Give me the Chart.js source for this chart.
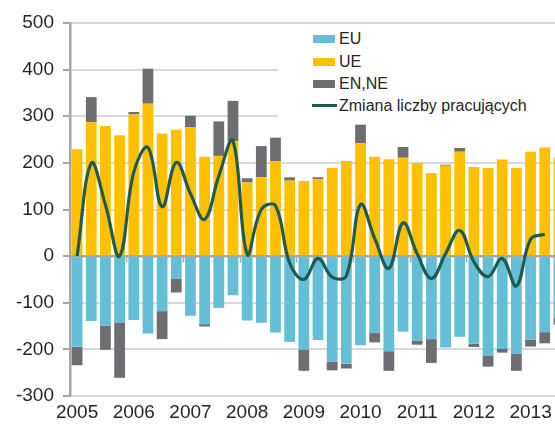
<!DOCTYPE html>
<html lang="pl">
<head>
  <meta charset="UTF-8">
  <title>Zmiana liczby pracujących</title>
  <script src="https://cdn.jsdelivr.net/npm/chart.js"></script>
  <style>
    html, body {
      margin: 0;
      padding: 0;
      background: white;
      overflow: hidden;
    }

    #wrap {
      position: relative;
      width: 555px;
      height: 426px;
      overflow: hidden;
      font-family: "Liberation Sans", Arial, sans-serif;
    }

    #chart {
      position: absolute;
      left: 0;
      top: 0;
    }

    #legend {
      position: absolute;
      left: 278px;
      top: 27px;
      width: 277px;
      height: 94px;
      background: white;
      color: #262626;
      font-size: 16px;
    }

    .item {
      position: absolute;
      left: 0;
      height: 20px;
      line-height: 20px;
      white-space: nowrap;
    }

    .sw {
      position: absolute;
      left: 35px;
      top: 6px;
      width: 22px;
      height: 8px;
    }

    .sw.line {
      left: 34px;
      top: 8px;
      width: 25px;
      height: 3px;
    }

    .txt {
      position: absolute;
      left: 61px;
      top: 0;
    }
  </style>
</head>
<body>
  <div id="wrap">
    <canvas id="chart" width="570" height="426"></canvas>
    <div id="legend">
      <div class="item" style="top: 2px"><span class="sw" style="background:#64BED6"></span><span class="txt">EU</span></div>
      <div class="item" style="top: 25px"><span class="sw" style="background:#FFC000"></span><span class="txt">UE</span></div>
      <div class="item" style="top: 47px"><span class="sw" style="background:#6E6D72"></span><span class="txt">EN,NE</span></div>
      <div class="item" style="top: 69px"><span class="sw line" style="background:#1E5B53"></span><span class="txt">Zmiana liczby pracujących</span></div>
    </div>
  </div>

  <script>
    const quarters = [
      '2005Q1', '2005Q2', '2005Q3', '2005Q4',
      '2006Q1', '2006Q2', '2006Q3', '2006Q4',
      '2007Q1', '2007Q2', '2007Q3', '2007Q4',
      '2008Q1', '2008Q2', '2008Q3', '2008Q4',
      '2009Q1', '2009Q2', '2009Q3', '2009Q4',
      '2010Q1', '2010Q2', '2010Q3', '2010Q4',
      '2011Q1', '2011Q2', '2011Q3', '2011Q4',
      '2012Q1', '2012Q2', '2012Q3', '2012Q4',
      '2013Q1', '2013Q2', '2013Q3'
    ];

    // etykiety lat pod osią - pod pierwszym kwartałem każdego roku
    const yearLabels = {
      '2005Q1': '2005', '2006Q1': '2006', '2007Q1': '2007',
      '2008Q1': '2008', '2009Q1': '2009', '2010Q1': '2010',
      '2011Q1': '2011', '2012Q1': '2012', '2013Q1': '2013'
    };

    const eu = [-194, -139, -149, -142, -137, -166, -118, -48, -128, -146, -111, -84,
                -138, -143, -164, -184, -200, -180, -226, -231, -191, -165, -204, -162,
                -181, -178, -196, -173, -188, -213, -199, -210, -179, -163, -132];

    const ue = [229, 287, 279, 259, 304, 327, 263, 271, 276, 213, 215, 246,
                158, 169, 204, 162, 161, 165, 189, 204, 242, 213, 208, 211,
                200, 178, 194, 224, 191, 189, 207, 189, 224, 233, 211];

    const enne = [-40, 54, -52, -119, 5, 75, -60, -30, 25, -5, 74, 87,
                  9, 67, 50, 7, -46, 4, -19, -10, 40, -20, -42, 23,
                  -9, -51, 2, 8, -7, -24, -8, -36, -15, -24, -15];

    const zmiana = [0, 199, 110, 0, 180, 233, 106, 201, 134, 79, 172, 247,
                    4, 100, 108, -15, -50, -5, -45, -42, 111, 38, -26, 71,
                    5, -48, 5, 55, -12, -44, -5, -64, 36, 47, null];

    const yTicks = [-300, -200, -100, 0, 100, 200, 300, 400, 500];

    const axisGrey = '#a6a6a6';
    const textColor = '#262626';
    const fontFamily = '"Liberation Sans", Arial, sans-serif';

    Chart.defaults.font.family = fontFamily;

    const ctx = document.getElementById('chart').getContext('2d');

    new Chart(ctx, {
      type: 'bar',
      data: {
        labels: quarters,
        datasets: [
          {
            label: 'EU',
            data: eu,
            backgroundColor: '#64BED6',
            stack: 'flows',
            order: 1
          },
          {
            label: 'UE',
            data: ue,
            backgroundColor: '#FFC000',
            stack: 'flows',
            order: 1
          },
          {
            label: 'EN,NE',
            data: enne,
            backgroundColor: '#6E6D72',
            stack: 'flows',
            order: 1
          },
          {
            type: 'line',
            label: 'Zmiana liczby pracujących',
            data: zmiana,
            borderColor: '#1E5B53',
            borderWidth: 3.2,
            tension: 0.4,
            pointRadius: 0,
            fill: false,
            stack: 'line',
            order: 0
          }
        ]
      },
      options: {
        responsive: false,
        animation: false,
        categoryPercentage: 1,
        barPercentage: 0.76,
        layout: {
          padding: { top: 23, right: 4, bottom: 0, left: 0 }
        },
        plugins: {
          legend: { display: false },
          tooltip: { enabled: false }
        },
        scales: {
          x: {
            type: 'category',
            stacked: true,
            offset: true,
            position: { y: 0 },
            z: 1,
            grid: {
              offset: true,
              drawOnChartArea: false,
              drawTicks: true,
              tickLength: 5,
              tickWidth: 1.5,
              tickColor: c => (c.index !== undefined && c.index % 4 === 0) ? axisGrey : 'rgba(0,0,0,0)'
            },
            border: { color: axisGrey, width: 2.5 },
            ticks: { display: false, autoSkip: false }
          },
          years: {
            type: 'category',
            axis: 'x',
            position: 'bottom',
            offset: true,
            grid: { display: false, drawTicks: false },
            border: { display: false },
            ticks: {
              autoSkip: false,
              maxRotation: 0,
              padding: 5,
              color: textColor,
              font: { size: 19 },
              callback: (v, i) => yearLabels[quarters[i]] || ''
            },
            afterFit: s => { s.height = 30; }
          },
          y: {
            stacked: true,
            min: yTicks[0],
            max: yTicks[yTicks.length - 1],
            afterBuildTicks: s => { s.ticks = yTicks.map(v => ({ value: v })); },
            ticks: {
              padding: 9,
              color: textColor,
              font: { size: 19 }
            },
            grid: {
              color: '#d9d9d9',
              lineWidth: 2,
              tickLength: 7,
              tickColor: axisGrey,
              tickWidth: 2
            },
            border: { color: axisGrey, width: 2.5 },
            afterFit: s => { s.width = 70; }
          }
        }
      }
    });
  </script>
</body>
</html>
